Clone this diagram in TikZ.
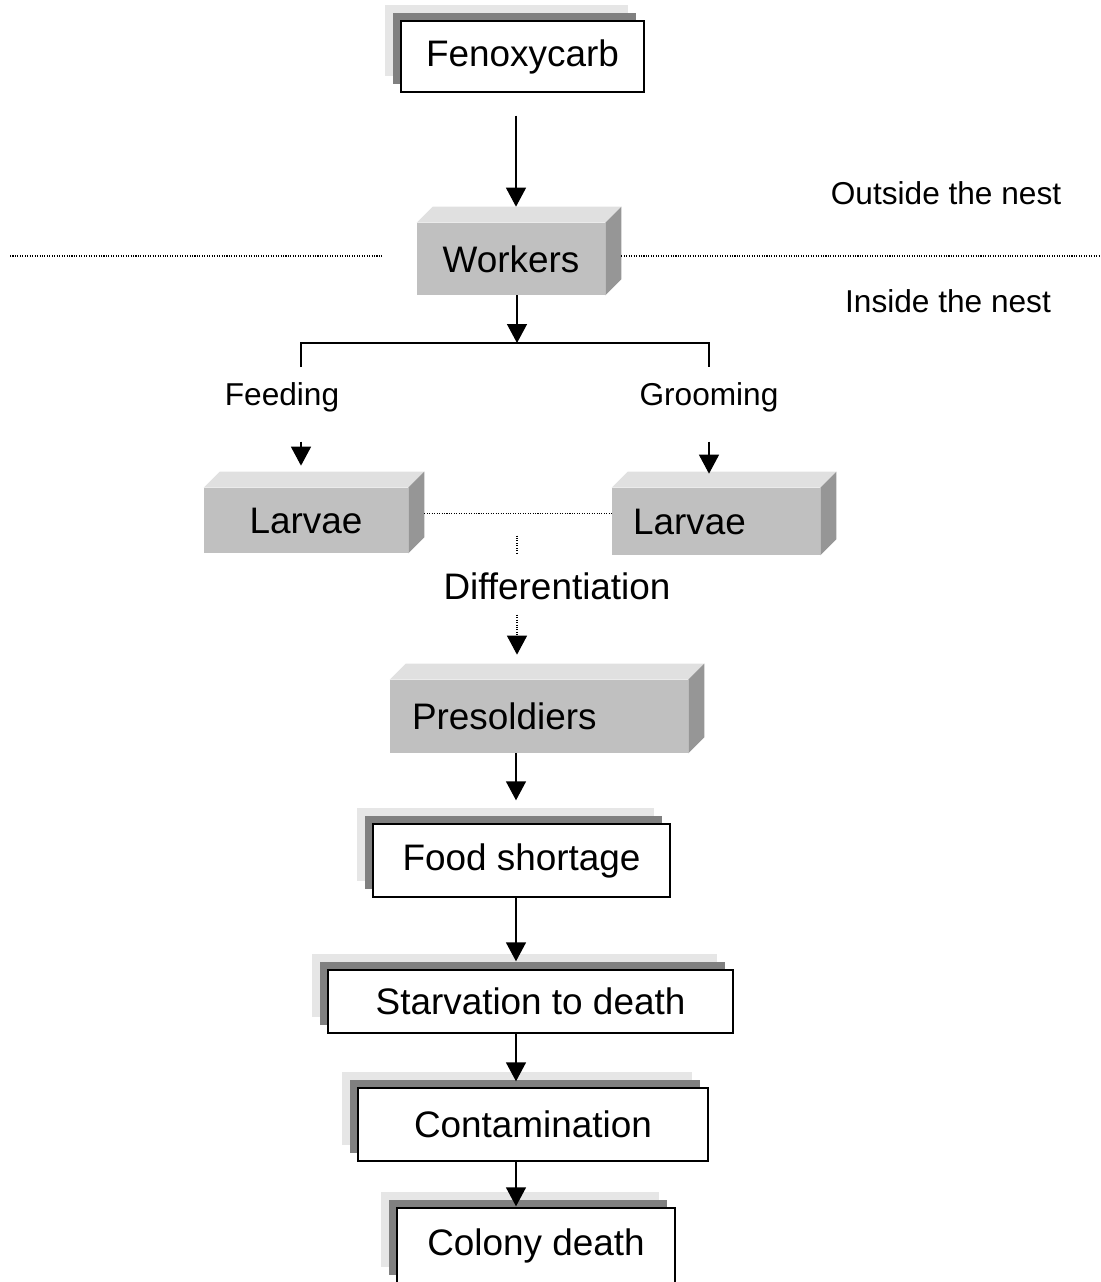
\documentclass[tikz,border=0pt]{standalone}
\usepackage{fontspec}
\setmainfont{Liberation Sans}
\usetikzlibrary{arrows.meta,shadows}
\definecolor{cubeFront}{HTML}{C0C0C0}
\definecolor{cubeTop}{HTML}{E0E0E0}
\definecolor{cubeSide}{HTML}{969696}
\definecolor{shadowDark}{HTML}{808080}
\definecolor{shadowLight}{HTML}{E6E6E6}
\newcommand{\bigText}{\fontsize{21}{25}\selectfont}
\newcommand{\smallText}{\fontsize{18}{22}\selectfont}
\newcommand{\cubeDepth}{16}
\newcommand{\cubeFaces}[1]{%%
  %% Top face of the block.
  \fill[cubeTop] (#1.north west) -- ++(\cubeDepth,-\cubeDepth)
  -- ([shift={(\cubeDepth,-\cubeDepth)}]#1.north east) -- (#1.north east) -- cycle;
  %% Right face of the block.
  \fill[cubeSide] (#1.north east) -- ++(\cubeDepth,-\cubeDepth)
  -- ([shift={(\cubeDepth,-\cubeDepth)}]#1.south east) -- (#1.south east) -- cycle;
}

\begin{document}
\begin{tikzpicture}[x=0.02cm,y=-0.02cm,%%
  flatBox/.style={draw,line width=0.8pt,fill=white,font=\bigText,
    general shadow={fill=shadowLight,shadow xshift=-0.32cm,shadow yshift=0.32cm},
    general shadow={fill=shadowDark,shadow xshift=-0.16cm,shadow yshift=0.16cm}},%%
  cubeBox/.style={fill=cubeFront,font=\bigText},%%
  arrowStyle/.style={-{Triangle[width=0.4cm,length=0.38cm]},line width=0.8pt},%%
  lineStyle/.style={-,line width=0.8pt},%%
  dotStyle/.style={line width=0.7pt,dash pattern=on 0.6pt off 0.8pt},%%
  labelStyle/.style={font=\smallText}
]
\useasboundingbox (0,0) rectangle (1101,1282);
%%
%% Main column of the flow.
\coordinate (spine) at (516,0);
\coordinate (leftEdge) at (10,256);
\coordinate (rightEdge) at (1100,256);
%%
%% Boxes with a double shadow.
\node[flatBox,minimum width=4.86cm,minimum height=1.42cm] (fenox) at (522.5,56.5) {Fenoxycarb};
\node[flatBox,minimum width=5.94cm,minimum height=1.46cm] (food) at (521.5,860.5) {Food shortage};
\node[flatBox,minimum width=8.1cm,minimum height=1.26cm] (starv) at (530.5,1001.5) {Starvation to death};
\node[flatBox,minimum width=7cm,minimum height=1.46cm] (contam) at (533,1124.5) {Contamination};
\node[flatBox,minimum width=5.56cm,minimum height=1.5cm] (colony) at (536,1245.5) {Colony death};
%%
%% Blocks drawn in relief.
\node[cubeBox,minimum width=3.76cm,minimum height=1.44cm] (workers) at (511,259) {Workers};
\cubeFaces{workers}
\node[cubeBox,minimum width=4.08cm,minimum height=1.3cm] (larvaeL) at (306,520.5) {Larvae};
\cubeFaces{larvaeL}
\node[cubeBox,text width=3.32cm,inner xsep=0.42cm,align=left,minimum height=1.34cm] (larvaeR) at (716,521.5) {Larvae};
\cubeFaces{larvaeR}
\node[cubeBox,text width=5.08cm,inner xsep=0.44cm,align=left,minimum height=1.46cm] (presol) at (539,716.5) {Presoldiers};
\cubeFaces{presol}
%%
%% Labels.
\node[labelStyle] (outside) at (946,193) {Outside the nest};
\node[labelStyle] (inside) at (948,301) {Inside the nest};
\node[labelStyle] (feeding) at (282,397) {Feeding};
\node[labelStyle] (grooming) at (709,397) {Grooming};
\node[font=\bigText] (diff) at (557,586) {Differentiation};
%%
%% Border of the nest.
\draw[dotStyle] (leftEdge) -- ([shift={(-34,0)}]workers.west |- leftEdge);
\draw[dotStyle] ([shift={(\cubeDepth,0)}]workers.east |- rightEdge) -- (rightEdge);
%%
%% Fenoxycarb reaches the workers.
\draw[arrowStyle] ([shift={(0,23)}]fenox.south -| spine) -- ([shift={(0,-\cubeDepth)}]workers.north -| spine);
%%
%% Split into feeding and grooming.
\coordinate (split) at (517,343);
\coordinate (feedTop) at (301,367);
\coordinate (groomTop) at (709,367);
\draw[arrowStyle] (workers.south -| split) -- (split);
\draw[lineStyle] (feedTop) -- (feedTop |- split) -- (groomTop |- split) -- (groomTop);
\draw[arrowStyle] ([shift={(0,-46)}]larvaeL.north -| feedTop) -- ([shift={(0,-22)}]larvaeL.north -| feedTop);
\draw[arrowStyle] ([shift={(0,-46)}]larvaeR.north -| groomTop) -- ([shift={(0,-14)}]larvaeR.north -| groomTop);
%%
%% Larvae become presoldiers.
\coordinate (gapL) at ([shift={(\cubeDepth,-7)}]larvaeL.east);
\coordinate (gapR) at (larvaeR.west |- gapL);
\coordinate (gapMid) at (517,513.5);
\draw[dotStyle] (gapL) -- (gapR);
\draw[dotStyle] ([shift={(0,22)}]gapMid) -- ([shift={(0,40)}]gapMid);
\draw[dotStyle,arrowStyle,line width=0.7pt] ([shift={(0,-65)}]presol.north -| gapMid) -- ([shift={(0,-25)}]presol.north -| gapMid);
%%
%% From presoldiers to the end of the colony.
\draw[arrowStyle] (presol.south -| spine) -- ([shift={(0,-23)}]food.north -| spine);
\draw[arrowStyle] (food.south -| spine) -- ([shift={(0,-8)}]starv.north -| spine);
\draw[arrowStyle] (starv.south -| spine) -- ([shift={(0,-6)}]contam.north -| spine);
\draw[arrowStyle] (contam.south -| spine) -- ([shift={(0,-1)}]colony.north -| spine);
\end{tikzpicture}
\end{document}
